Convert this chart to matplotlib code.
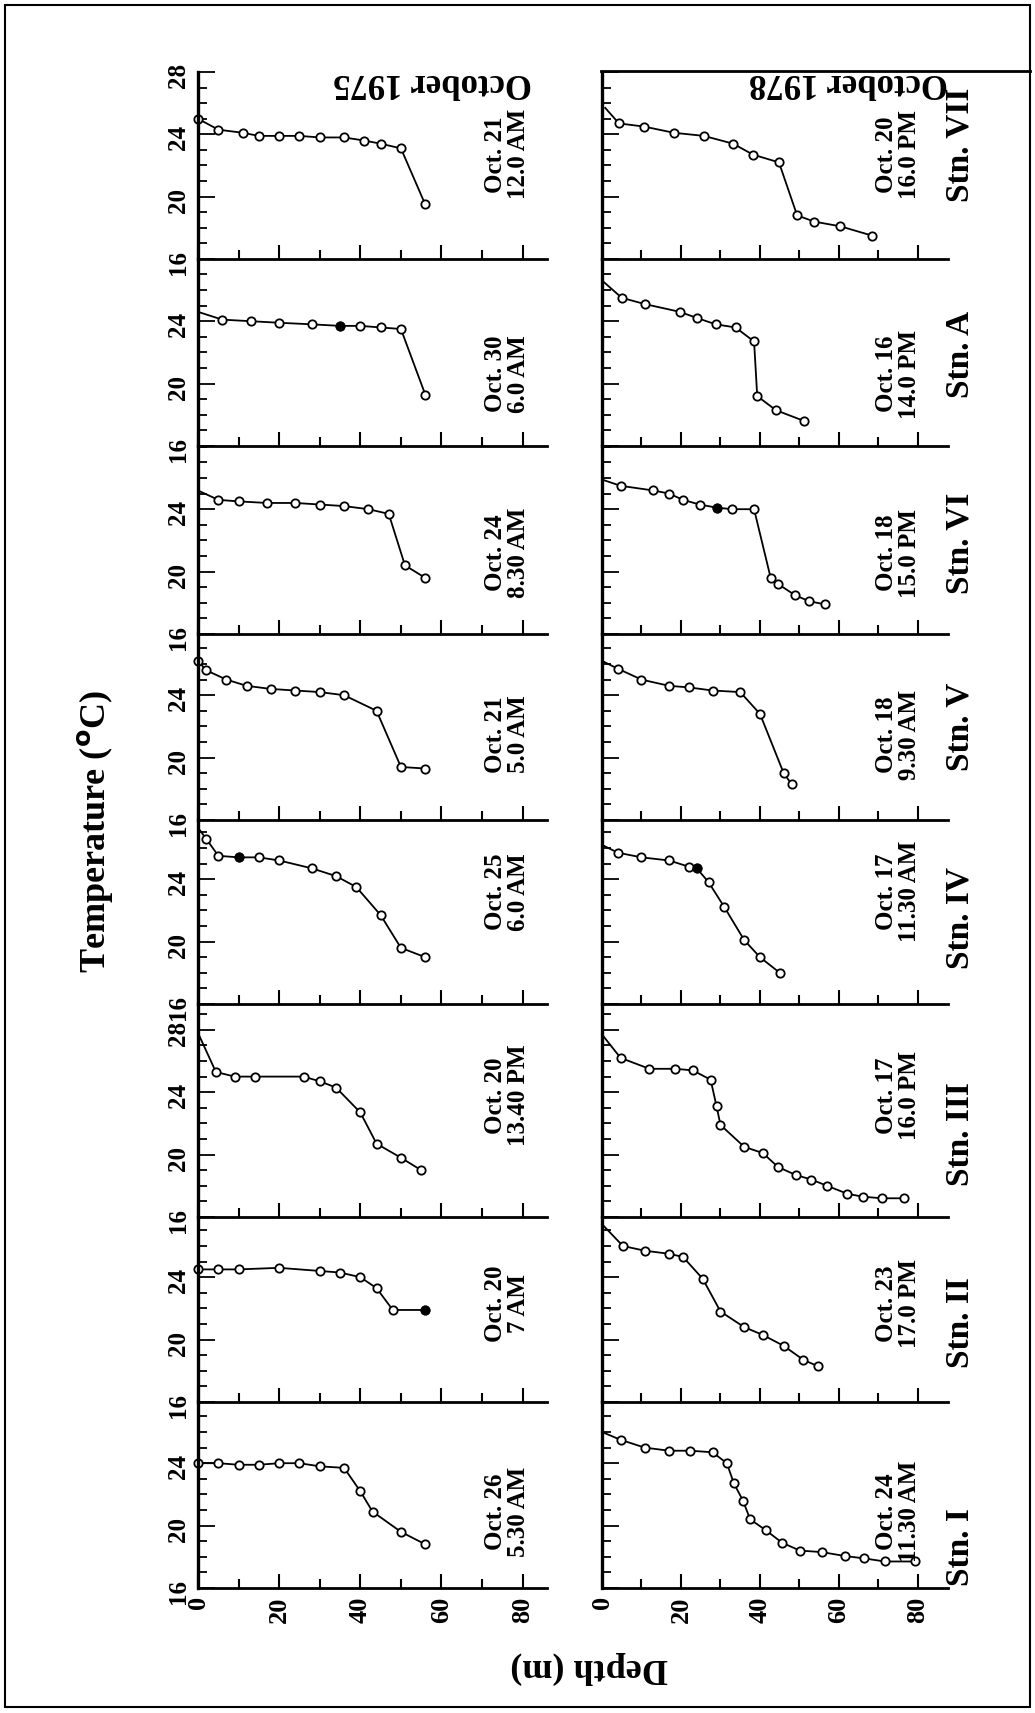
import numpy as np
import matplotlib.pyplot as plt
from matplotlib.ticker import MultipleLocator
from matplotlib.lines import Line2D
from matplotlib.patches import Rectangle

plt.rcParams['font.family'] = ['Liberation Serif', 'DejaVu Serif']
plt.rcParams['font.weight'] = 'bold'

# --- data (stations listed bottom to top) ---
stations = ['I', 'II', 'III', 'IV', 'V', 'VI', 'A', 'VII']

dates_1975 = ['Oct. 26\n5.30 AM', 'Oct. 20\n7 AM', 'Oct. 20\n13.40 PM', 'Oct. 25\n6.0 AM',
              'Oct. 21\n5.0 AM', 'Oct. 24\n8.30 AM', 'Oct. 30\n6.0 AM', 'Oct. 21\n12.0 AM']
dates_1978 = ['Oct. 24\n11.30 AM', 'Oct. 23\n17.0 PM', 'Oct. 17\n16.0 PM', 'Oct. 17\n11.30 AM',
              'Oct. 18\n9.30 AM', 'Oct. 18\n15.0 PM', 'Oct. 16\n14.0 PM', 'Oct. 20\n16.0 PM']

depth_1975 = [
    [0, 5, 10, 15, 20, 25, 30, 36, 40, 43, 50, 56],
    [0, 5, 10, 20, 30, 35, 40, 44, 48, 56],
    [0, 4.4, 9, 14, 26, 30, 34, 40, 44, 50, 55],
    [0, 2, 5, 10, 15, 20, 28, 34, 39, 45, 50, 56],
    [0, 2, 7, 12, 18, 24, 30, 36, 44, 50, 56],
    [0, 5, 10, 17, 24, 30, 36, 42, 47, 51, 56],
    [0, 6, 13, 20, 28, 35, 40, 45, 50, 56],
    [0, 5, 11, 15, 20, 25, 30, 36, 41, 45, 50, 56],
]
temp_1975 = [
    [24.0, 24.0, 23.9, 23.9, 24.0, 24.0, 23.8, 23.7, 22.2, 20.9, 19.6, 18.8],
    [24.5, 24.5, 24.5, 24.6, 24.4, 24.3, 24.0, 23.3, 21.9, 21.9],
    [27.8, 25.3, 25.0, 25.0, 25.0, 24.7, 24.3, 22.7, 20.7, 19.8, 19.0],
    [27.3, 26.6, 25.5, 25.4, 25.4, 25.2, 24.7, 24.2, 23.5, 21.7, 19.6, 19.0],
    [26.2, 25.6, 25.0, 24.6, 24.4, 24.3, 24.2, 24.0, 23.0, 19.4, 19.3],
    [25.2, 24.6, 24.5, 24.4, 24.4, 24.3, 24.2, 24.0, 23.7, 20.4, 19.6],
    [24.6, 24.1, 24.0, 23.9, 23.8, 23.7, 23.7, 23.6, 23.5, 19.3],
    [25.0, 24.3, 24.1, 23.9, 23.9, 23.9, 23.8, 23.8, 23.6, 23.4, 23.1, 19.5],
]
depth_1978 = [
    [0, 4.7, 10.8, 17, 22.4, 28, 31.6, 33.4, 35.7, 37.5, 41.5, 45.6, 50.1, 55.7, 61.5, 66.3, 71.6, 79.2],
    [0, 5.3, 10.8, 17, 20.5, 25.5, 30, 36, 40.7, 46, 51, 54.6],
    [0, 4.7, 12, 18.5, 23, 27.5, 29, 30, 36, 40.7, 44.6, 49, 53, 57, 62, 66, 71, 76.5],
    [0, 4, 10, 17, 22, 24, 27, 31, 36, 40, 45],
    [0, 4, 10, 17, 22, 28, 35, 40, 46, 48],
    [0, 4.7, 13, 17, 20.5, 24.7, 29, 33, 38.5, 42.7, 44.6, 48.8, 52.4, 56.5],
    [0.5, 5, 10.8, 19.7, 24.1, 28.8, 33.8, 38.5, 39.3, 44, 51.2],
    [0.8, 4.3, 10.6, 18.2, 25.8, 33.2, 38.2, 44.8, 49.4, 53.7, 60.3, 68.4],
]
temp_1978 = [
    [26.0, 25.5, 25.0, 24.8, 24.8, 24.7, 24.0, 22.7, 21.6, 20.4, 19.7, 18.9, 18.4, 18.3, 18.05, 17.9, 17.7, 17.7],
    [27.4, 26.0, 25.7, 25.5, 25.3, 23.9, 21.8, 20.8, 20.3, 19.6, 18.7, 18.3],
    [27.7, 26.2, 25.5, 25.5, 25.4, 24.8, 23.1, 21.9, 20.5, 20.1, 19.2, 18.7, 18.4, 18.0, 17.5, 17.3, 17.2, 17.2],
    [26.2, 25.7, 25.4, 25.2, 24.8, 24.7, 23.8, 22.2, 20.1, 19.0, 18.0],
    [26.2, 25.7, 25.0, 24.6, 24.5, 24.3, 24.2, 22.8, 19.0, 18.3],
    [25.9, 25.5, 25.2, 25.0, 24.6, 24.3, 24.1, 24.0, 24.0, 19.6, 19.2, 18.5, 18.1, 17.9],
    [26.5, 25.5, 25.1, 24.6, 24.2, 23.8, 23.6, 22.7, 19.2, 18.3, 17.6],
    [25.7, 24.7, 24.5, 24.1, 23.9, 23.4, 22.7, 22.2, 18.8, 18.4, 18.1, 17.5],
]
# is the first (surface) point drawn with a circle?
first_marked_1975 = [True, True, False, False, True, False, False, True]
first_marked_1978 = [False, False, False, False, False, False, False, False]
# index of solid (filled) circles
filled_1975 = [[], [9], [], [3], [], [], [5], []]
filled_1978 = [[], [], [], [5], [], [6], [], []]

# --- layout (pixels) ---
W, H = 1035, 1713
PX_PER_DEG = 15.6
bottoms = [1588, 1402, 1217, 1004, 820, 634, 446, 259]
tops = [1402, 1217, 1004, 820, 634, 446, 259, 72]
columns = [(198, 547, 86.0), (602, 948, 87.6)]
date_x = [0.885, 0.855]
date_y = [0.41, 0.53, 0.57, 0.61, 0.46, 0.43, 0.385, 0.56]
stn_y = [0.22, 0.43, 0.39, 0.47, 0.50, 0.48, 0.49, 0.61]

fig = plt.figure(figsize=(W / 100, H / 100), dpi=100)

def px(v):
    return v * 0.72

for col, (x0, x1, dmax) in enumerate(columns):
    depths = depth_1975 if col == 0 else depth_1978
    temps = temp_1975 if col == 0 else temp_1978
    dates = dates_1975 if col == 0 else dates_1978
    firsts = first_marked_1975 if col == 0 else first_marked_1978
    filled = filled_1975 if col == 0 else filled_1978
    for i, stn in enumerate(stations):
        yb, yt = bottoms[i], tops[i]
        ax = fig.add_axes([x0 / W, 1 - yb / H, (x1 - x0) / W, (yb - yt) / H])
        ax.set_xlim(0, dmax)
        ax.set_ylim(16, 16 + (yb - yt) / PX_PER_DEG)
        ax.patch.set_alpha(0)
        for s in ['top', 'right']:
            ax.spines[s].set_visible(False)
        ax.spines['left'].set_linewidth(2.4)
        ax.spines['bottom'].set_linewidth(2.0)

        d = np.array(depths[i])
        t = np.array(temps[i])
        start = 0 if firsts[i] else 1
        ax.plot(d, t, color='black', lw=1.3, marker='o', ms=6, mfc='white',
                mec='black', mew=1.3, markevery=slice(start, None), clip_on=False)
        if filled[i]:
            k = filled[i]
            ax.plot(d[k], t[k], 'o', ms=6, color='black', clip_on=False)

        yt_labels = [16, 20, 24] + ([28] if stn in ('III', 'VII') else [])
        ax.set_yticks(yt_labels)
        ax.yaxis.set_minor_locator(MultipleLocator(1))
        ax.set_xticks([0, 20, 40, 60, 80])
        ax.xaxis.set_minor_locator(MultipleLocator(10))
        ax.tick_params(axis='y', which='major', direction='in', length=px(17), width=1.3)
        ax.tick_params(axis='y', which='minor', direction='in', length=px(9), width=1.3)
        ax.tick_params(axis='x', which='major', direction='in', length=px(14), width=1.5)
        ax.tick_params(axis='x', which='minor', direction='in', length=px(9), width=1.5)

        if col == 0:
            ax.tick_params(axis='y', labelsize=18, labelrotation=90, pad=6)
        else:
            ax.tick_params(axis='y', labelleft=False)
        if i == 0:
            ax.tick_params(axis='x', labelsize=19, labelrotation=90, pad=6)
        else:
            ax.tick_params(axis='x', labelbottom=False)

        ax.text(date_x[col], date_y[i], dates[i], transform=ax.transAxes, rotation=90,
                ha='center', va='center', fontsize=18, fontweight='bold',
                linespacing=1.0)
        if col == 1:
            ax.text(1.035, stn_y[i], 'Stn. ' + stn, transform=ax.transAxes, rotation=90,
                    ha='center', va='center', fontsize=24, fontweight='bold')

# titles and axis names
fig.text(432 / W, 1 - 82 / H, 'October 1975', rotation=180, ha='center', va='center',
         fontsize=25, fontweight='bold')
fig.text(848 / W, 1 - 82 / H, 'October 1978', rotation=180, ha='center', va='center',
         fontsize=25, fontweight='bold')
fig.text(95 / W, 1 - 831 / H, 'Temperature ($^{\\mathbf{o}}$C)', rotation=90, ha='center',
         va='center', fontsize=26, fontweight='bold')
fig.text(589 / W, 1 - 1668 / H, 'Depth (m)', rotation=180, ha='center', va='center',
         fontsize=26, fontweight='bold')

# top rule over the 1978 column and the outer frame
fig.add_artist(Line2D([601 / W, 1030 / W], [1 - 71 / H, 1 - 71 / H], color='black', lw=2.0))
fig.add_artist(Rectangle((5 / W, 6 / H), 1025 / W, 1702 / H, transform=fig.transFigure,
                         fill=False, edgecolor='black', lw=1.5))

fig.savefig('out.png', dpi=100)
